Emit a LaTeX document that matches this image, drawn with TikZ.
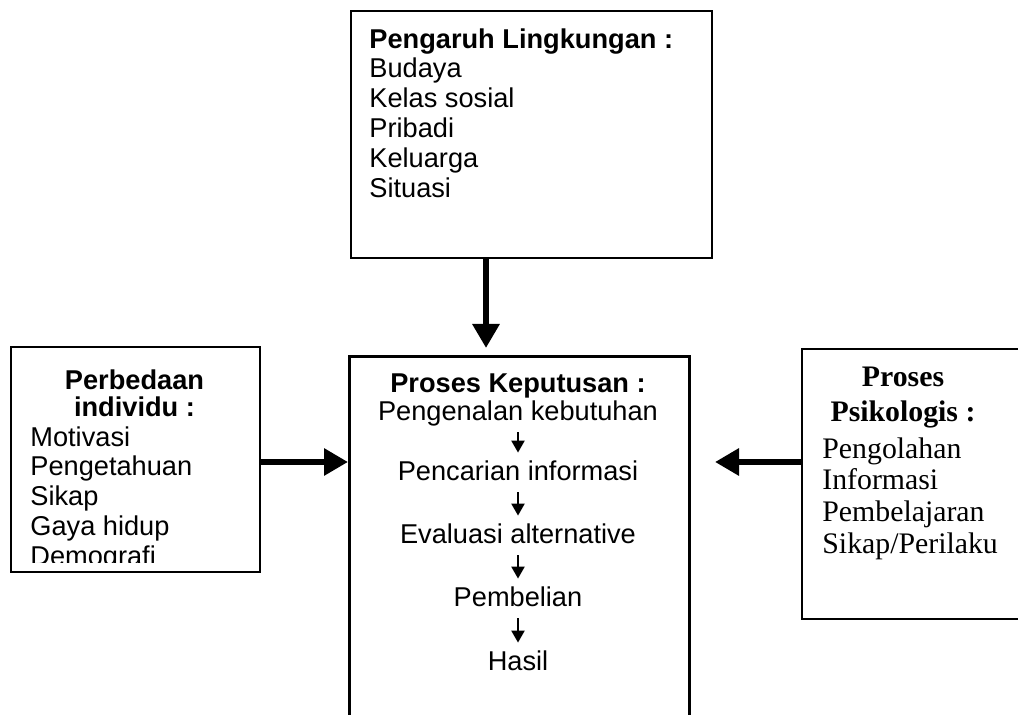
\documentclass[tikz,border=0pt]{standalone}
\usepackage{fontspec}
\setmainfont{Liberation Sans}
\newfontfamily\serifpsi{Liberation Serif}
\usetikzlibrary{calc,positioning,arrows.meta}
\tikzset{
kotak/.style={
  draw,
  line width=1pt,
  anchor=north west,
  inner sep=0pt
  },
kotaktebal/.style={
  kotak,
  line width=1.5pt
  },
isi/.style={
  inner sep=0pt,
  align=#1,
  font=\fontsize{13.6}{14.9}\selectfont
  },
isi/.default=left,
langkah/.style={
  isi=center,
  anchor=base,
  text height=9.5pt,
  text depth=0pt
  },
panahbesar/.style={
  line width=3pt,
  -{Triangle[width=13pt,length=12pt]}
  },
panahkecil/.style={
  line width=1.1pt,
  -{Triangle[width=6.5pt,length=6pt]},
  shorten <=5.5pt,
  shorten >=4.5pt
  }
}

\begin{document}
\begin{tikzpicture}[x=0.5pt,y=-0.5pt]
    \useasboundingbox (0,0) rectangle (1018,715);
    % kotak
    \node[kotak,minimum width=180.5pt,minimum height=123.5pt] (lingk) at (350,10) {};
    \node[kotaktebal,minimum width=170pt,minimum height=180pt] (keput) at (348,355) {};
    \node[kotak,minimum width=124.5pt,minimum height=112.5pt] (indiv) at (10,346) {};
    \node[kotak,minimum width=114.5pt,minimum height=135pt] (psiko) at (801,348) {};
    % pengaruh lingkungan
    \node[isi,anchor=north west] (lingkT) at (369,28)
        {\textbf{Pengaruh Lingkungan :}\\Budaya\\Kelas sosial\\Pribadi\\Keluarga\\Situasi};
    % perbedaan individu
    \node[isi=center,anchor=north,font=\fontsize{13.6}{13.8}\selectfont] (indivJ) at (134.5,369)
        {\textbf{Perbedaan}\\\textbf{individu :}};
    \begin{scope}
        \clip (12,348) rectangle (257,563);
        \node[isi,anchor=north west] (indivT) at (30,426)
            {Motivasi\\Pengetahuan\\Sikap\\Gaya hidup\\Demografi};
    \end{scope}
    % proses psikologis
    \node[isi=center,anchor=north,font=\serifpsi\fontsize{14.9}{17.5}\selectfont] (psikoJ) at (903,367)
        {\textbf{Proses}\\\textbf{Psikologis :}};
    \node[isi,anchor=north west,font=\serifpsi\fontsize{14.9}{15.9}\selectfont] (psikoT) at (822,437)
        {Pengolahan\\Informasi\\Pembelajaran\\Sikap/Perilaku};
    % proses keputusan
    \node[isi,anchor=base] (keputJ) at (518,393) {\textbf{Proses Keputusan :}};
    \foreach \y/\n/\t in {421/s1/Pengenalan kebutuhan,481/s2/Pencarian informasi,
        544/s3/Evaluasi alternative,607/s4/Pembelian,671/s5/Hasil}
        \node[langkah] (\n) at (518,\y) {\t};
    \foreach \a/\b in {s1/s2,s2/s3,s3/s4,s4/s5}
        \draw[panahkecil] (\a) -- (\b);
    % panah besar
    \coordinate (ax) at (486,0);
    \coordinate (ay) at (0,462);
    \draw[panahbesar,shorten >=3.5pt] (lingk.south -| ax) -- (keput.north -| ax);
    \draw[panahbesar] (indiv.east |- ay) -- (keput.west |- ay);
    \draw[panahbesar,shorten >=12pt] (psiko.west |- ay) -- (keput.east |- ay);
\end{tikzpicture}
\end{document}
